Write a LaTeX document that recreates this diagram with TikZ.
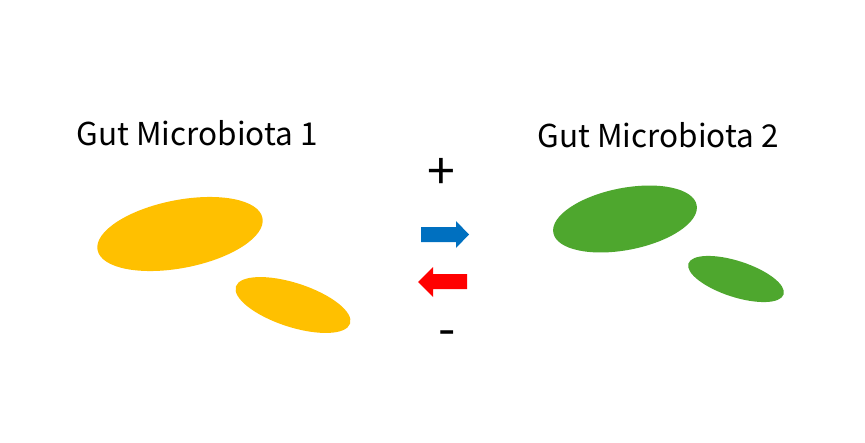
\documentclass[tikz,border=0pt]{standalone}
\usepackage{fontspec}
\setmainfont{Noto Sans CJK JP}
\definecolor{ygold}{HTML}{FFC000}
\definecolor{mgreen}{HTML}{4EA72E}
\definecolor{ablue}{HTML}{0070C0}
\definecolor{ared}{HTML}{FF0000}
\begin{document}
\begin{tikzpicture}[x=1pt,y=-1pt,
  title/.style={font=\fontsize{31.5}{36}\selectfont, inner sep=0pt, anchor=center},
  sign/.style={font=\fontsize{50}{54}\selectfont, inner sep=0pt}]
\useasboundingbox (0,0) rectangle (865,442);
\fill[white] (0,0) rectangle (865,442);
\node[title] (t1) at (197,133) {Gut Microbiota 1};
\node[title] (t2) at (658,135) {Gut Microbiota 2};
% yellow cells
\fill[ygold, rotate around={11:(180,234)}] (180,234) ellipse [x radius=84, y radius=34];
\fill[ygold, rotate around={-18:(293,305)}] (293,305) ellipse [x radius=60, y radius=22];
% green cells
\fill[mgreen, rotate around={11:(625,219)}] (625,219) ellipse [x radius=73, y radius=31];
\fill[mgreen, rotate around={-18:(736,279)}] (736,279) ellipse [x radius=50, y radius=18];
% signs
\node[sign] (plus) at (441,174) {+};
\node[sign] (minus) at (447,339) {-};
% arrows
\fill[ablue] (421,227) -- (456,227) -- (456,221) -- (469,234.5) -- (456,248) -- (456,242) -- (421,242) -- cycle;
\fill[ared] (467,274) -- (433,274) -- (433,267) -- (418,282) -- (433,297) -- (433,289) -- (467,289) -- cycle;
\end{tikzpicture}
\end{document}
